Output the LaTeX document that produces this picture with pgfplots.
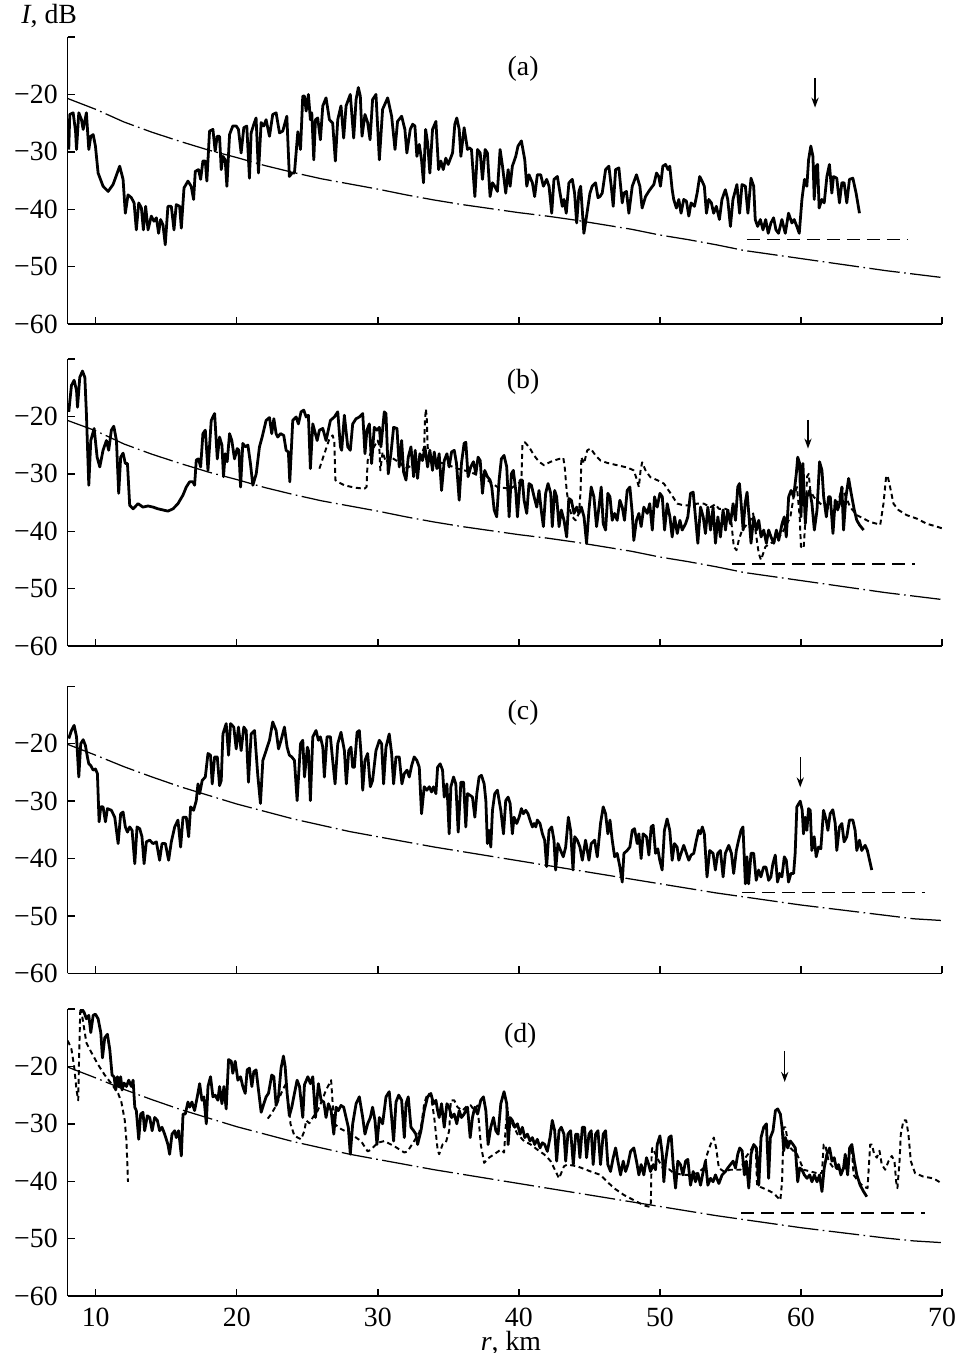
\documentclass[border=0pt]{standalone}
\usepackage{fontspec}
\setmainfont{Liberation Serif}
\usepackage{pgfplots}
\pgfplotsset{compat=1.18}
\usetikzlibrary{arrows.meta}
\pgfplotsset{
 panel/.style={
  scale only axis, width=314.82pt, height=103.32pt,
  xmin=8, xmax=70, ymin=-60, ymax=-10,
  axis lines=left, axis line style={-, line width=0.5pt},
  xtick={10,20,30,40,50,60,70}, ytick={-60,-50,-40,-30,-20,-10},
  yticklabels={−60,−50,−40,−30,−20,{}},
  xticklabels={},
  tick align=inside, major tick length=2.6pt,
  tick style={line width=0.5pt, black},
  anchor=south west, clip=true,
  ticklabel style={font=\fontsize{10}{12}\selectfont},
 },
 solidc/.style={black, line width=1.0pt, line join=round, mark=none},
 dotc/.style={black, line width=0.7pt, dash pattern=on 1.8pt off 1.3pt, line join=round, mark=none},
 refc/.style={black, line width=0.45pt, dash pattern=on 11pt off 1.6pt on 0.6pt off 1.6pt, mark=none},
 noisec/.style={black, line width=0.5pt, dash pattern=on 4.6pt off 2.6pt, mark=none},
 arrowc/.style={black, line width=0.5pt, -{Stealth[length=3.6pt,width=2.6pt]}, mark=none},
}
\begin{document}
\begin{tikzpicture}
\path[use as bounding box] (0,0) rectangle (346.32pt,-487.08pt);
\node[anchor=west, font=\fontsize{10}{12}\selectfont] at (4.2pt,-5.6pt) {\textit{I}, dB};
\node[font=\fontsize{10}{12}\selectfont, inner sep=0pt, anchor=base] at (183.96pt,-486.0pt) {\textit{r}, km};

% ---------------- (a)
\begin{axis}[panel, at={(24.3pt,-116.64pt)}]
\addplot[refc] coordinates {(8,-20.7)(10,-22.6)(12,-24.8)(14,-26.6)(16,-28.2)(18,-29.7)(20,-31.0)(22,-32.4)(24,-33.6)(26,-34.7)(28,-35.6)(30,-36.5)(32,-37.5)(34,-38.4)(36,-39.2)(38,-39.9)(40,-40.6)(42,-41.2)(44,-41.9)(46,-42.7)(48,-43.5)(50,-44.5)(52,-45.3)(54,-46.2)(56,-47.2)(58,-47.9)(60,-48.6)(62,-49.3)(64,-50.0)(66,-50.7)(68,-51.3)(70,-51.9)};
\addplot[noisec] coordinates {(56.17,-45.3)(67.6,-45.3)};
\addplot[arrowc] coordinates {(61.0,-17.1)(61.0,-22.3)};
\addplot[solidc] coordinates {(8.09,-29.6)(8.16,-23.5)(8.40,-23.2)(8.57,-26.4)(8.64,-29.6)(8.80,-23.2)(8.99,-24.4)(9.11,-26.1)(9.34,-23.2)(9.51,-29.6)(9.65,-27.3)(9.82,-27.0)(9.98,-29.0)(10.17,-33.7)(10.52,-36.0)(10.88,-36.9)(11.23,-35.7)(11.70,-32.5)(11.94,-34.8)(12.10,-40.7)(12.29,-37.5)(12.53,-38.0)(12.72,-38.9)(12.88,-43.6)(13.05,-38.9)(13.24,-39.8)(13.38,-43.6)(13.54,-39.5)(13.71,-43.6)(13.94,-41.2)(14.13,-42.1)(14.30,-41.5)(14.46,-44.2)(14.60,-41.8)(14.77,-42.7)(14.93,-46.2)(15.12,-39.5)(15.36,-39.5)(15.55,-43.6)(15.71,-39.2)(15.95,-39.5)(16.07,-43.3)(16.26,-36.3)(16.54,-35.1)(16.77,-36.0)(16.94,-38.3)(17.06,-33.4)(17.29,-33.1)(17.44,-34.8)(17.60,-31.6)(17.77,-31.6)(17.88,-35.1)(18.07,-26.4)(18.31,-26.1)(18.47,-29.9)(18.61,-27.3)(18.78,-27.3)(18.90,-33.1)(19.02,-30.8)(19.18,-31.4)(19.30,-36.0)(19.49,-27.0)(19.72,-25.5)(19.96,-25.5)(20.12,-26.1)(20.31,-30.2)(20.50,-25.8)(20.71,-25.5)(20.90,-34.6)(21.02,-26.7)(21.21,-25.2)(21.37,-24.1)(21.54,-33.7)(21.73,-24.9)(21.92,-25.5)(22.08,-24.4)(22.32,-27.3)(22.55,-23.5)(22.79,-23.2)(23.03,-26.7)(23.26,-26.4)(23.55,-23.8)(23.73,-34.3)(23.92,-33.7)(24.09,-33.7)(24.33,-26.5)(24.52,-29.6)(24.68,-20.3)(24.80,-20.3)(24.92,-22.9)(25.08,-20.0)(25.22,-24.4)(25.32,-23.2)(25.46,-31.4)(25.58,-24.4)(25.74,-24.1)(25.93,-27.9)(26.10,-22.0)(26.33,-20.6)(26.57,-24.4)(26.80,-25.0)(26.99,-31.6)(27.16,-24.4)(27.39,-22.0)(27.58,-27.6)(27.75,-22.0)(28.05,-20.0)(28.29,-27.6)(28.46,-20.9)(28.62,-18.8)(28.76,-20.3)(28.88,-27.3)(29.09,-23.5)(29.28,-24.9)(29.45,-27.9)(29.63,-20.9)(29.87,-20.0)(30.11,-31.4)(30.34,-22.6)(30.70,-20.6)(30.98,-23.8)(31.22,-29.6)(31.40,-24.7)(31.69,-23.8)(31.92,-26.1)(32.06,-30.2)(32.30,-26.1)(32.47,-25.2)(32.63,-25.5)(32.77,-30.8)(32.94,-28.7)(33.10,-31.4)(33.24,-35.4)(33.39,-26.1)(33.53,-28.4)(33.69,-33.7)(33.88,-26.1)(34.12,-24.7)(34.31,-33.1)(34.47,-31.6)(34.64,-33.1)(34.82,-31.1)(34.99,-32.2)(35.30,-30.2)(35.46,-25.2)(35.60,-24.1)(35.77,-26.1)(35.89,-30.8)(36.12,-25.8)(36.36,-29.6)(36.48,-29.3)(36.64,-29.6)(36.88,-37.8)(37.07,-29.6)(37.26,-30.2)(37.42,-34.8)(37.61,-29.6)(37.77,-30.2)(37.96,-37.8)(38.13,-35.4)(38.29,-36.0)(38.48,-36.9)(38.67,-29.6)(38.84,-32.5)(39.07,-37.2)(39.24,-33.1)(39.38,-36.0)(39.54,-32.5)(39.78,-30.8)(39.94,-29.0)(40.18,-28.1)(40.42,-31.4)(40.56,-36.0)(40.72,-34.0)(40.96,-35.4)(41.12,-37.8)(41.31,-34.0)(41.55,-34.0)(41.74,-36.0)(41.97,-34.8)(42.14,-36.0)(42.33,-40.7)(42.49,-34.8)(42.73,-34.3)(42.92,-37.2)(43.08,-39.5)(43.20,-38.3)(43.36,-40.7)(43.55,-35.4)(43.79,-34.8)(43.95,-37.2)(44.10,-42.4)(44.26,-36.9)(44.38,-36.0)(44.61,-44.2)(44.80,-41.2)(45.04,-37.2)(45.20,-36.0)(45.44,-35.4)(45.61,-38.0)(45.75,-37.8)(45.91,-37.2)(46.15,-33.1)(46.38,-32.5)(46.55,-36.0)(46.69,-39.5)(46.86,-33.1)(47.09,-32.8)(47.33,-38.9)(47.45,-37.2)(47.63,-36.9)(47.80,-40.7)(48.04,-36.0)(48.34,-34.0)(48.58,-36.0)(48.74,-39.8)(48.98,-37.8)(49.21,-36.9)(49.38,-36.3)(49.57,-35.7)(49.76,-33.7)(49.92,-34.3)(50.04,-36.0)(50.21,-32.5)(50.40,-32.2)(50.58,-33.1)(50.70,-32.5)(50.87,-36.6)(50.98,-38.3)(51.17,-39.8)(51.34,-38.3)(51.50,-40.7)(51.69,-38.3)(51.88,-38.6)(52.05,-41.2)(52.21,-38.9)(52.45,-39.5)(52.64,-37.2)(52.82,-34.3)(52.99,-35.1)(53.15,-36.0)(53.30,-40.7)(53.46,-38.3)(53.65,-38.9)(53.81,-40.7)(54.00,-39.5)(54.22,-41.8)(54.40,-38.3)(54.64,-36.6)(54.81,-38.3)(55.00,-43.0)(55.18,-38.3)(55.46,-35.7)(55.65,-40.7)(55.82,-35.7)(56.06,-36.0)(56.24,-40.7)(56.46,-34.6)(56.65,-36.0)(56.76,-41.8)(56.93,-43.0)(57.12,-41.8)(57.31,-43.6)(57.50,-41.8)(57.68,-44.2)(57.87,-42.4)(58.06,-41.5)(58.23,-43.6)(58.41,-44.2)(58.65,-41.8)(58.89,-44.2)(59.12,-40.7)(59.36,-42.4)(59.52,-41.8)(59.71,-43.0)(59.88,-44.2)(60.07,-38.3)(60.25,-34.8)(60.42,-36.0)(60.54,-31.4)(60.70,-29.0)(60.85,-30.8)(60.94,-38.3)(61.08,-32.5)(61.18,-32.2)(61.29,-39.8)(61.48,-38.3)(61.65,-38.9)(61.84,-34.3)(62.02,-32.2)(62.19,-37.2)(62.31,-34.3)(62.54,-34.6)(62.73,-38.9)(62.90,-35.4)(63.06,-35.4)(63.25,-38.9)(63.44,-34.8)(63.68,-34.6)(63.91,-37.2)(64.15,-40.7)};
\node[font=\fontsize{10}{12}\selectfont] at (axis cs:40.3,-15.6) {(a)};
\end{axis}

% ---------------- (b)
\begin{axis}[panel, at={(24.3pt,-232.56pt)}]
\addplot[refc] coordinates {(8,-20.7)(10,-22.5)(12,-24.8)(14,-26.6)(16,-28.2)(18,-29.7)(20,-31.0)(22,-32.4)(24,-33.6)(26,-34.7)(28,-35.6)(30,-36.5)(32,-37.5)(34,-38.4)(36,-39.2)(38,-39.9)(40,-40.6)(42,-41.2)(44,-41.9)(46,-42.7)(48,-43.5)(50,-44.5)(52,-45.3)(54,-46.2)(56,-47.2)(58,-47.9)(60,-48.6)(62,-49.3)(64,-50.0)(66,-50.7)(68,-51.3)(70,-51.9)};
\addplot[noisec] coordinates {(55.12,-45.7)(68.1,-45.7)};
\addplot[arrowc] coordinates {(60.5,-20.6)(60.5,-25.6)};
\addplot[dotc] coordinates {(25.86,-29.1)(26.21,-26.5)(26.57,-23.9)(26.80,-23.3)(26.92,-24.5)(26.99,-31.1)(27.16,-31.4)(27.63,-32.0)(28.34,-32.4)(29.05,-32.6)(29.20,-32.3)(29.28,-27.7)(29.52,-26.2)(29.99,-24.2)(30.10,-25.0)(30.18,-29.4)(30.34,-26.2)(30.58,-28.0)(30.93,-27.1)(31.64,-28.2)(31.88,-29.1)(32.40,-28.6)(32.90,-27.8)(33.17,-26.2)(33.29,-25.3)(33.34,-20.7)(33.41,-18.7)(33.48,-20.7)(33.53,-25.3)(33.76,-27.7)(34.71,-28.2)(35.65,-29.1)(36.59,-29.7)(37.77,-31.1)(38.48,-32.3)(39.42,-32.6)(40.05,-31.5)(40.18,-31.1)(40.25,-25.0)(40.42,-24.5)(40.72,-25.3)(41.08,-26.8)(41.43,-27.9)(41.78,-28.5)(42.26,-27.9)(42.73,-27.5)(43.15,-27.2)(43.25,-28.8)(43.39,-32.9)(43.55,-35.8)(43.79,-37.5)(44.02,-38.1)(44.26,-36.9)(44.38,-32.9)(44.43,-27.1)(44.62,-28.2)(44.85,-25.9)(45.09,-25.6)(45.44,-26.8)(45.79,-27.7)(46.27,-28.1)(46.97,-28.5)(47.68,-28.9)(48.15,-29.4)(48.34,-30.8)(48.51,-32.3)(48.63,-29.4)(48.74,-28.0)(48.98,-29.4)(49.33,-30.6)(49.81,-31.1)(50.28,-31.7)(50.76,-33.4)(51.23,-35.2)(51.70,-35.5)(52.17,-35.5)(52.64,-35.2)(53.11,-35.2)(53.59,-35.8)(53.94,-35.3)(54.18,-36.1)(54.65,-36.1)(55.00,-36.6)(55.12,-39.8)(55.24,-42.7)(55.43,-43.3)(55.59,-41.6)(55.83,-39.8)(56.42,-38.1)(56.61,-36.9)(56.84,-41.0)(57.01,-43.9)(57.17,-45.0)(57.48,-42.7)(57.83,-42.1)(58.30,-41.6)(58.78,-39.8)(59.25,-37.5)(59.48,-34.0)(59.72,-32.3)(59.91,-37.5)(60.00,-42.7)(60.19,-43.0)(60.33,-37.5)(60.43,-30.5)(60.55,-30.0)(60.66,-32.9)(60.90,-34.0)(61.37,-35.2)(62.31,-36.6)(62.74,-34.0)(62.90,-32.3)(63.49,-35.8)(63.96,-37.2)(64.44,-37.8)(64.91,-38.4)(65.38,-38.7)(65.62,-38.9)(65.85,-35.2)(66.04,-30.5)(66.14,-30.3)(66.32,-32.3)(66.56,-35.2)(66.91,-36.3)(67.50,-37.2)(68.21,-37.8)(68.92,-38.7)(69.63,-39.2)(70.0,-39.5)};
\addplot[solidc] coordinates {(8.09,-19.2)(8.28,-14.6)(8.47,-13.7)(8.64,-15.5)(8.71,-18.4)(8.87,-13.2)(9.06,-12.1)(9.23,-13.2)(9.34,-19.5)(9.51,-32.0)(9.65,-24.2)(9.89,-22.1)(10.10,-27.1)(10.29,-28.8)(10.52,-25.9)(10.76,-24.2)(10.92,-25.9)(11.11,-22.4)(11.28,-21.7)(11.47,-24.2)(11.63,-33.4)(11.77,-27.1)(11.94,-26.4)(12.10,-28.2)(12.25,-28.2)(12.41,-35.5)(12.65,-36.1)(13.00,-35.2)(13.35,-35.8)(13.71,-35.6)(14.06,-35.8)(14.42,-36.1)(14.77,-36.3)(15.12,-36.5)(15.48,-36.1)(15.83,-35.2)(16.19,-33.7)(16.42,-32.3)(16.66,-31.4)(16.89,-31.4)(17.01,-32.0)(17.13,-27.6)(17.29,-27.4)(17.44,-28.8)(17.60,-23.0)(17.77,-22.4)(17.96,-29.4)(18.19,-20.7)(18.43,-19.5)(18.62,-27.4)(18.78,-23.6)(18.95,-25.0)(19.06,-30.5)(19.18,-26.5)(19.32,-27.9)(19.49,-23.0)(19.65,-24.2)(19.84,-27.4)(20.03,-25.6)(20.15,-25.9)(20.27,-32.3)(20.43,-24.7)(20.60,-25.3)(20.79,-25.0)(20.97,-28.2)(21.14,-32.0)(21.38,-30.0)(21.61,-25.3)(21.80,-23.6)(22.08,-20.7)(22.32,-20.2)(22.48,-23.0)(22.63,-20.4)(22.79,-23.0)(22.91,-23.6)(23.10,-23.0)(23.33,-23.3)(23.50,-25.9)(23.66,-26.2)(23.76,-31.4)(23.97,-20.7)(24.21,-20.1)(24.37,-21.3)(24.56,-19.2)(24.75,-18.9)(24.92,-20.1)(25.08,-19.8)(25.22,-29.1)(25.39,-21.3)(25.51,-22.4)(25.70,-24.2)(25.86,-22.4)(26.10,-22.1)(26.33,-24.2)(26.64,-20.7)(26.92,-20.1)(27.16,-19.2)(27.35,-25.3)(27.44,-25.9)(27.63,-19.8)(27.87,-25.3)(28.05,-25.9)(28.22,-21.3)(28.46,-20.4)(28.69,-20.1)(28.93,-19.5)(29.09,-26.5)(29.23,-22.4)(29.40,-21.3)(29.56,-28.2)(29.75,-21.9)(29.94,-22.4)(30.11,-21.9)(30.22,-25.3)(30.46,-19.2)(30.58,-19.5)(30.74,-30.0)(30.93,-26.5)(31.12,-21.9)(31.36,-22.1)(31.52,-28.8)(31.69,-24.2)(31.83,-29.7)(32.00,-31.1)(32.16,-27.1)(32.35,-25.3)(32.54,-30.5)(32.65,-25.9)(32.82,-30.8)(32.98,-26.5)(33.17,-27.7)(33.34,-25.3)(33.53,-28.8)(33.69,-25.9)(33.88,-29.4)(34.00,-26.2)(34.19,-29.1)(34.35,-26.5)(34.52,-32.9)(34.71,-27.7)(34.90,-26.5)(35.06,-28.8)(35.23,-26.2)(35.42,-25.9)(35.58,-28.2)(35.77,-34.6)(35.93,-28.2)(36.12,-24.7)(36.24,-24.5)(36.40,-30.5)(36.59,-28.8)(36.78,-27.9)(36.95,-30.0)(37.11,-27.1)(37.26,-27.7)(37.42,-33.4)(37.58,-29.4)(37.77,-30.5)(37.96,-31.1)(38.08,-32.3)(38.25,-36.3)(38.43,-37.5)(38.60,-31.1)(38.76,-27.4)(38.95,-26.8)(39.14,-28.8)(39.31,-37.5)(39.47,-30.0)(39.61,-29.4)(39.78,-32.9)(39.90,-37.5)(40.09,-31.1)(40.25,-31.1)(40.37,-34.6)(40.56,-36.9)(40.72,-31.7)(40.89,-32.0)(41.08,-34.0)(41.27,-35.8)(41.43,-32.9)(41.60,-36.6)(41.74,-39.2)(41.90,-33.4)(42.07,-31.7)(42.26,-33.4)(42.37,-39.2)(42.54,-32.9)(42.68,-34.0)(42.85,-39.2)(43.01,-36.3)(43.20,-38.1)(43.39,-41.0)(43.55,-34.3)(43.72,-34.6)(43.91,-36.9)(44.10,-35.8)(44.26,-36.9)(44.43,-35.8)(44.62,-37.5)(44.80,-42.1)(44.97,-36.3)(45.13,-32.3)(45.32,-34.0)(45.51,-39.2)(45.68,-35.8)(45.84,-32.3)(45.98,-38.7)(46.15,-39.8)(46.31,-33.4)(46.46,-34.0)(46.62,-38.1)(46.79,-36.9)(46.97,-38.1)(47.16,-34.6)(47.33,-35.8)(47.49,-38.1)(47.68,-32.9)(47.87,-32.3)(48.04,-36.9)(48.15,-41.6)(48.34,-38.1)(48.51,-36.9)(48.67,-39.2)(48.86,-35.8)(49.10,-36.9)(49.28,-35.2)(49.46,-39.8)(49.62,-34.0)(49.81,-35.8)(50.00,-33.4)(50.17,-34.0)(50.33,-39.8)(50.52,-35.2)(50.71,-37.5)(50.87,-41.0)(51.04,-37.5)(51.23,-40.4)(51.42,-38.1)(51.58,-39.8)(51.82,-38.7)(51.98,-37.5)(52.17,-33.4)(52.36,-33.2)(52.52,-37.5)(52.69,-42.1)(52.88,-35.8)(53.07,-37.5)(53.23,-40.4)(53.40,-35.8)(53.59,-39.8)(53.77,-35.8)(53.94,-42.1)(54.11,-37.5)(54.29,-41.0)(54.48,-36.3)(54.65,-39.8)(54.81,-36.3)(55.00,-38.7)(55.19,-35.2)(55.36,-38.1)(55.52,-32.3)(55.64,-31.7)(55.76,-35.2)(55.90,-39.8)(56.04,-35.2)(56.18,-33.2)(56.32,-37.5)(56.46,-42.1)(56.65,-37.5)(56.84,-39.8)(57.01,-38.1)(57.17,-41.0)(57.36,-39.8)(57.55,-42.1)(57.71,-39.8)(57.88,-41.0)(58.07,-42.1)(58.26,-39.8)(58.42,-41.6)(58.66,-38.7)(58.82,-37.5)(58.96,-41.0)(59.13,-34.0)(59.30,-32.9)(59.48,-34.0)(59.67,-30.0)(59.77,-27.1)(59.91,-28.2)(60.00,-37.5)(60.14,-28.2)(60.31,-38.7)(60.43,-34.0)(60.62,-32.9)(60.78,-35.2)(60.95,-39.8)(61.14,-36.3)(61.32,-27.9)(61.49,-29.4)(61.61,-34.0)(61.80,-37.5)(61.96,-34.0)(62.08,-34.0)(62.27,-40.4)(62.43,-34.6)(62.60,-36.3)(62.74,-35.2)(62.90,-32.3)(63.02,-39.8)(63.19,-34.0)(63.38,-30.8)(63.56,-33.4)(63.78,-36.3)(63.96,-38.1)(64.15,-38.9)(64.44,-39.8)};
\node[font=\fontsize{10}{12}\selectfont] at (axis cs:40.3,-13.9) {(b)};
\end{axis}

% ---------------- (c)
\begin{axis}[panel, at={(24.3pt,-350.39pt)}]
\addplot[refc] coordinates {(8,-20.1)(10,-22.0)(12,-24.0)(14,-25.8)(16,-27.5)(18,-29.0)(20,-30.5)(22,-31.8)(24,-33.1)(26,-34.2)(28,-35.3)(30,-36.2)(32,-37.1)(34,-38.0)(36,-38.8)(38,-39.6)(40,-40.4)(42,-41.2)(44,-42.0)(46,-42.8)(48,-43.6)(50,-44.4)(52,-45.2)(54,-46.0)(56,-46.7)(58,-47.4)(60,-48.1)(62,-48.7)(64,-49.3)(66,-49.9)(68,-50.5)(70,-50.8)};
\addplot[noisec] coordinates {(55.82,-45.9)(68.8,-45.9)};
\addplot[arrowc] coordinates {(59.95,-22.4)(59.95,-27.6)};
\addplot[solidc] coordinates {(8.09,-19.1)(8.28,-17.7)(8.47,-16.8)(8.64,-18.8)(8.80,-25.8)(8.94,-20.0)(9.11,-19.3)(9.27,-20.3)(9.41,-22.3)(9.51,-23.5)(9.65,-23.8)(9.82,-24.6)(9.98,-24.4)(10.12,-25.2)(10.24,-33.6)(10.36,-31.0)(10.52,-31.0)(10.69,-33.6)(10.83,-31.3)(11.11,-31.6)(11.35,-32.8)(11.59,-37.4)(11.77,-32.2)(11.94,-31.9)(12.10,-34.5)(12.25,-35.4)(12.41,-34.5)(12.58,-35.1)(12.77,-40.9)(12.93,-34.5)(13.12,-34.8)(13.28,-36.2)(13.43,-40.9)(13.59,-37.1)(13.83,-36.8)(14.06,-37.4)(14.30,-37.1)(14.53,-40.3)(14.70,-37.4)(14.94,-37.4)(15.17,-40.3)(15.36,-37.1)(15.60,-34.5)(15.83,-33.3)(16.02,-38.0)(16.19,-32.8)(16.42,-32.8)(16.59,-36.2)(16.73,-31.0)(16.94,-31.6)(17.13,-29.9)(17.25,-27.0)(17.37,-28.7)(17.55,-26.4)(17.77,-25.8)(17.96,-21.7)(18.14,-22.0)(18.26,-27.0)(18.43,-22.3)(18.62,-22.3)(18.78,-27.3)(18.90,-26.4)(19.02,-18.3)(19.25,-16.5)(19.42,-22.0)(19.56,-16.5)(19.79,-17.1)(19.96,-20.9)(20.12,-17.1)(20.31,-21.2)(20.50,-17.1)(20.67,-17.7)(20.83,-26.7)(21.02,-18.3)(21.26,-17.7)(21.49,-25.5)(21.68,-30.4)(21.85,-22.9)(22.08,-21.2)(22.32,-19.4)(22.55,-16.2)(22.79,-17.7)(22.96,-20.9)(23.14,-19.4)(23.38,-17.1)(23.57,-20.6)(23.73,-22.0)(23.90,-22.3)(24.09,-22.9)(24.28,-29.9)(24.52,-20.0)(24.68,-19.4)(24.80,-25.8)(25.01,-20.6)(25.08,-21.2)(25.22,-29.9)(25.39,-18.8)(25.62,-17.7)(25.79,-19.4)(25.93,-18.8)(26.10,-20.6)(26.21,-25.8)(26.40,-18.8)(26.64,-18.8)(26.80,-22.9)(26.97,-27.0)(27.16,-20.0)(27.39,-18.0)(27.63,-21.2)(27.77,-27.0)(27.94,-21.2)(28.10,-20.6)(28.22,-24.1)(28.34,-24.1)(28.53,-18.0)(28.69,-17.7)(28.81,-21.7)(28.93,-28.1)(29.09,-22.9)(29.28,-21.7)(29.47,-27.5)(29.63,-26.4)(29.87,-21.2)(30.11,-19.4)(30.27,-20.0)(30.41,-27.0)(30.58,-20.6)(30.81,-18.3)(30.98,-21.7)(31.12,-27.0)(31.29,-22.3)(31.52,-22.3)(31.71,-27.0)(31.88,-25.2)(32.07,-24.6)(32.23,-25.8)(32.40,-23.8)(32.58,-22.3)(32.77,-22.9)(32.94,-24.1)(33.10,-32.2)(33.29,-27.5)(33.48,-28.1)(33.65,-27.5)(33.81,-28.4)(33.95,-27.5)(34.12,-28.7)(34.24,-24.1)(34.42,-23.5)(34.59,-24.6)(34.71,-29.3)(34.90,-27.0)(35.06,-35.7)(35.18,-27.5)(35.37,-25.8)(35.53,-27.0)(35.70,-35.4)(35.89,-26.7)(36.08,-26.7)(36.24,-34.5)(36.36,-28.7)(36.55,-29.0)(36.71,-29.3)(36.88,-32.8)(37.02,-28.7)(37.18,-25.8)(37.35,-25.5)(37.54,-27.0)(37.66,-29.9)(37.77,-37.4)(37.89,-35.1)(38.01,-38.0)(38.13,-31.6)(38.29,-28.7)(38.48,-28.1)(38.72,-31.6)(38.91,-35.7)(39.07,-29.9)(39.24,-29.3)(39.38,-30.4)(39.54,-35.7)(39.66,-32.8)(39.85,-33.9)(40.02,-32.8)(40.18,-31.3)(40.32,-32.2)(40.49,-31.6)(40.65,-32.2)(40.79,-33.3)(40.96,-34.5)(41.08,-33.9)(41.20,-34.5)(41.31,-33.3)(41.50,-33.9)(41.67,-35.7)(41.83,-36.8)(41.97,-41.4)(42.14,-35.1)(42.33,-34.5)(42.49,-36.8)(42.61,-42.0)(42.77,-37.4)(42.96,-38.6)(43.15,-39.7)(43.32,-38.0)(43.51,-32.8)(43.67,-35.1)(43.84,-42.0)(43.96,-36.2)(44.14,-36.8)(44.33,-38.0)(44.50,-40.3)(44.73,-36.8)(44.97,-40.3)(45.13,-37.4)(45.37,-36.8)(45.56,-39.7)(45.79,-33.9)(45.98,-31.0)(46.15,-32.2)(46.31,-35.7)(46.46,-33.3)(46.62,-36.8)(46.79,-39.7)(46.97,-39.1)(47.16,-41.4)(47.33,-44.1)(47.45,-39.1)(47.68,-38.6)(47.87,-38.0)(48.04,-35.1)(48.20,-34.8)(48.39,-37.4)(48.51,-35.7)(48.67,-40.0)(48.81,-35.7)(49.05,-36.2)(49.22,-39.4)(49.38,-34.5)(49.52,-34.2)(49.69,-39.1)(49.85,-38.3)(49.99,-40.3)(50.16,-42.0)(50.32,-35.1)(50.51,-33.1)(50.70,-35.1)(50.87,-40.3)(51.03,-37.4)(51.22,-38.0)(51.34,-40.3)(51.50,-39.1)(51.69,-37.7)(51.88,-39.1)(52.05,-40.3)(52.21,-39.4)(52.40,-39.1)(52.59,-36.8)(52.75,-35.1)(52.87,-35.7)(53.01,-34.5)(53.15,-35.7)(53.34,-43.2)(53.53,-38.6)(53.77,-39.1)(53.93,-42.0)(54.10,-39.1)(54.29,-38.6)(54.48,-43.2)(54.64,-39.1)(54.88,-37.7)(55.07,-39.1)(55.23,-42.6)(55.42,-38.6)(55.58,-36.8)(55.75,-35.1)(55.89,-34.5)(56.06,-44.4)(56.17,-39.7)(56.29,-44.4)(56.46,-39.1)(56.65,-39.1)(56.83,-43.8)(57.00,-42.0)(57.16,-43.2)(57.35,-41.5)(57.52,-41.5)(57.71,-43.8)(57.87,-43.2)(58.01,-40.9)(58.18,-39.4)(58.34,-44.1)(58.49,-42.6)(58.65,-43.2)(58.82,-39.7)(58.96,-40.3)(59.12,-44.1)(59.29,-42.6)(59.48,-42.6)(59.59,-39.1)(59.71,-31.0)(59.95,-30.0)(60.09,-31.6)(60.18,-35.7)(60.30,-32.8)(60.42,-35.1)(60.54,-31.3)(60.66,-31.6)(60.77,-38.6)(60.94,-36.2)(61.08,-39.7)(61.25,-38.0)(61.41,-38.3)(61.60,-31.6)(61.79,-33.3)(61.91,-35.1)(62.07,-32.2)(62.26,-31.5)(62.43,-33.9)(62.54,-38.6)(62.73,-34.5)(62.90,-33.9)(63.06,-37.1)(63.25,-36.2)(63.44,-33.3)(63.68,-33.3)(63.84,-35.1)(63.96,-38.6)(64.15,-36.8)(64.31,-38.6)(64.55,-37.7)(64.71,-38.6)(65.02,-42.0)};
\node[font=\fontsize{10}{12}\selectfont] at (axis cs:40.3,-14.7) {(c)};
\end{axis}

% ---------------- (d)
\begin{axis}[panel, at={(24.3pt,-466.56pt)}, xticklabels={10,20,30,40,50,60,70}, xticklabel style={inner sep=0pt, yshift=-4.0pt}]
\addplot[refc] coordinates {(8,-20.1)(10,-22.0)(12,-24.0)(14,-25.8)(16,-27.5)(18,-29.0)(20,-30.5)(22,-31.8)(24,-33.1)(26,-34.2)(28,-35.3)(30,-36.2)(32,-37.1)(34,-38.0)(36,-38.8)(38,-39.6)(40,-40.4)(42,-41.2)(44,-42.0)(46,-42.8)(48,-43.6)(50,-44.4)(52,-45.2)(54,-46.0)(56,-46.7)(58,-47.4)(60,-48.1)(62,-48.7)(64,-49.3)(66,-49.9)(68,-50.4)(70,-50.7)};
\addplot[noisec] coordinates {(55.76,-45.55)(68.8,-45.55)};
\addplot[arrowc] coordinates {(58.85,-17.3)(58.85,-22.7)};
\addplot[dotc] coordinates {(8.0,-15.5)(8.09,-15.9)(8.28,-17.0)(8.47,-20.0)(8.64,-24.1)(8.76,-25.9)(8.83,-17.6)(8.90,-10.6)(8.94,-9.7)(9.11,-12.3)(9.34,-15.9)(9.70,-17.6)(10.17,-19.7)(10.64,-21.5)(11.11,-23.0)(11.59,-24.7)(11.82,-26.2)(12.06,-29.4)(12.18,-33.0)(12.29,-40.1)};
\addplot[dotc] coordinates {(22.20,-29.1)(22.44,-28.3)(22.80,-26.8)(23.15,-24.7)(23.38,-23.5)(23.50,-23.0)(23.62,-25.3)(23.81,-30.0)(24.09,-32.1)(24.56,-32.7)(24.80,-31.2)(24.92,-29.4)(25.15,-29.9)(25.39,-28.9)(25.74,-27.7)(26.10,-25.6)(26.33,-24.1)(26.57,-23.0)(26.69,-22.4)(26.80,-26.5)(26.92,-30.0)(27.39,-30.9)(28.10,-31.8)(28.81,-33.0)(29.28,-34.8)(29.52,-34.5)(29.99,-33.3)(30.46,-33.0)(31.17,-33.9)(31.88,-35.0)(32.11,-34.8)(32.58,-33.0)(32.94,-31.5)(33.10,-30.0)(33.29,-26.5)(33.53,-24.7)(33.76,-25.0)(34.00,-28.9)(34.24,-34.5)(34.35,-35.3)(34.59,-33.6)(34.82,-33.3)(35.06,-31.2)(35.18,-25.9)(35.42,-25.9)(35.65,-27.1)(36.00,-27.7)(36.36,-26.8)(36.60,-26.8)(36.83,-27.7)(37.07,-26.8)(37.30,-33.6)(37.54,-36.8)(37.89,-35.9)(38.25,-35.3)(38.72,-34.5)(38.95,-35.0)(39.07,-30.6)(39.19,-27.1)(39.31,-30.6)(39.42,-29.4)(39.90,-31.8)(40.37,-33.0)(40.84,-33.6)(41.31,-34.5)(41.78,-35.3)(42.26,-36.5)(42.61,-38.3)(42.85,-39.5)(43.20,-37.4)(43.44,-37.1)(44.14,-37.4)(45.09,-38.3)(45.79,-38.9)(46.27,-40.1)(46.74,-41.2)(47.45,-42.4)(48.15,-43.3)(48.86,-44.2)(49.33,-44.5)(49.36,-43.6)(49.41,-35.3)(49.46,-34.2)(49.69,-35.3)(49.93,-36.5)(50.28,-38.0)(50.64,-37.9)(50.99,-38.6)(51.70,-38.9)(52.17,-38.9)(52.64,-38.6)(53.11,-37.7)(53.35,-35.3)(53.59,-33.6)(53.82,-32.4)(53.99,-34.2)(54.18,-37.7)(54.53,-38.3)(55.00,-38.0)(55.71,-38.0)(56.06,-35.9)(56.42,-34.7)(56.65,-33.6)(56.80,-34.2)(56.89,-40.7)(57.12,-41.0)(57.60,-41.5)(58.07,-42.1)(58.54,-43.3)(58.66,-40.1)(58.78,-30.6)(58.90,-30.6)(59.06,-33.0)(59.25,-34.2)(59.72,-35.3)(60.19,-38.0)(60.66,-38.3)(61.14,-38.6)(61.49,-38.6)(61.61,-33.6)(61.72,-33.6)(61.96,-36.5)(62.31,-37.7)(62.79,-38.0)(63.26,-37.7)(63.49,-34.2)(63.61,-34.2)(63.73,-38.9)(64.09,-40.1)(64.44,-41.0)(64.72,-41.2)(64.91,-33.6)(65.03,-33.6)(65.19,-35.3)(65.38,-35.9)(65.57,-34.7)(65.73,-37.1)(65.97,-38.0)(66.21,-36.5)(66.44,-35.6)(66.63,-36.5)(66.75,-40.1)(66.84,-41.2)(66.99,-36.5)(67.08,-31.8)(67.27,-29.4)(67.46,-29.4)(67.62,-31.8)(67.79,-36.5)(68.09,-38.6)(68.68,-39.2)(69.39,-39.5)(70.0,-40.4)};
\addplot[solidc] coordinates {(8.92,-9.6)(9.18,-10.6)(9.34,-11.7)(9.51,-11.1)(9.65,-14.1)(9.82,-11.1)(9.98,-10.9)(10.17,-11.7)(10.36,-14.1)(10.48,-18.5)(10.64,-15.0)(10.83,-14.4)(11.00,-17.1)(11.16,-21.5)(11.30,-21.8)(11.42,-24.1)(11.54,-21.8)(11.66,-23.5)(11.77,-21.8)(11.87,-24.1)(12.01,-22.9)(12.18,-23.5)(12.34,-22.4)(12.53,-23.5)(12.65,-22.4)(12.77,-27.1)(12.88,-27.7)(13.05,-32.7)(13.19,-28.3)(13.35,-28.0)(13.47,-31.2)(13.66,-28.6)(13.83,-28.9)(14.00,-31.2)(14.18,-28.9)(14.37,-29.4)(14.53,-31.2)(14.70,-30.6)(14.89,-31.8)(15.12,-33.6)(15.24,-35.3)(15.41,-31.8)(15.60,-31.2)(15.71,-32.4)(15.88,-31.2)(16.07,-35.6)(16.19,-28.3)(16.35,-28.3)(16.54,-26.2)(16.66,-27.1)(16.82,-26.2)(17.01,-27.7)(17.20,-25.3)(17.37,-23.0)(17.53,-25.9)(17.67,-25.3)(17.84,-30.0)(17.96,-23.5)(18.14,-21.8)(18.31,-25.3)(18.47,-25.0)(18.66,-25.9)(18.78,-23.5)(18.95,-26.5)(19.09,-23.5)(19.25,-27.4)(19.42,-18.8)(19.61,-19.1)(19.72,-21.2)(19.89,-19.1)(20.08,-22.4)(20.27,-21.8)(20.43,-23.5)(20.60,-24.7)(20.74,-20.6)(20.90,-20.3)(21.07,-23.5)(21.21,-20.9)(21.37,-20.6)(21.54,-24.1)(21.73,-28.0)(21.92,-26.5)(22.08,-25.3)(22.25,-24.7)(22.48,-21.5)(22.63,-21.8)(22.79,-26.8)(22.96,-25.3)(23.14,-20.3)(23.31,-18.2)(23.43,-20.0)(23.57,-24.7)(23.73,-28.6)(23.90,-27.1)(24.09,-24.7)(24.28,-22.4)(24.45,-23.5)(24.68,-28.9)(24.80,-23.2)(25.04,-21.8)(25.22,-23.0)(25.39,-21.8)(25.58,-28.9)(25.79,-23.0)(25.98,-25.9)(26.17,-26.2)(26.33,-28.9)(26.50,-26.5)(26.69,-27.7)(26.88,-31.8)(27.04,-27.1)(27.20,-27.7)(27.39,-26.8)(27.58,-27.1)(27.75,-28.9)(27.91,-30.6)(28.05,-35.3)(28.22,-30.0)(28.46,-26.5)(28.69,-25.3)(28.93,-28.9)(29.09,-31.8)(29.28,-30.0)(29.47,-28.9)(29.63,-27.1)(29.80,-29.4)(29.94,-33.6)(30.11,-28.9)(30.34,-30.0)(30.58,-25.3)(30.81,-24.4)(30.98,-28.9)(31.12,-33.0)(31.29,-26.2)(31.48,-25.0)(31.69,-25.9)(31.88,-32.4)(32.00,-26.5)(32.16,-25.3)(32.35,-30.6)(32.54,-31.2)(32.70,-31.8)(32.82,-33.6)(33.06,-31.2)(33.29,-27.7)(33.53,-25.3)(33.76,-24.7)(33.95,-26.5)(34.12,-25.9)(34.24,-27.7)(34.35,-28.9)(34.52,-26.5)(34.71,-30.6)(34.90,-26.5)(35.06,-27.1)(35.23,-28.9)(35.42,-28.3)(35.60,-30.0)(35.77,-27.7)(35.93,-28.9)(36.12,-28.3)(36.36,-27.1)(36.55,-32.4)(36.71,-28.9)(36.88,-27.1)(37.07,-28.3)(37.30,-25.9)(37.49,-25.3)(37.66,-27.7)(37.82,-33.6)(38.01,-30.6)(38.20,-28.9)(38.37,-31.2)(38.53,-31.8)(38.72,-26.5)(38.95,-24.4)(39.14,-26.5)(39.24,-33.6)(39.38,-28.9)(39.54,-29.4)(39.71,-30.6)(39.90,-30.0)(40.09,-31.8)(40.25,-30.6)(40.42,-32.4)(40.61,-31.8)(40.79,-33.0)(40.96,-32.4)(41.12,-33.6)(41.31,-32.7)(41.50,-34.2)(41.67,-33.3)(41.83,-33.6)(42.02,-34.8)(42.21,-32.4)(42.37,-29.4)(42.54,-31.2)(42.68,-36.5)(42.85,-31.2)(43.01,-30.6)(43.20,-31.8)(43.32,-36.5)(43.48,-31.8)(43.67,-31.2)(43.86,-37.1)(44.03,-31.8)(44.19,-31.8)(44.33,-35.9)(44.50,-30.6)(44.66,-30.6)(44.80,-35.9)(44.97,-31.8)(45.13,-31.2)(45.27,-37.1)(45.44,-31.8)(45.61,-31.2)(45.79,-37.1)(45.98,-31.8)(46.15,-31.2)(46.31,-37.1)(46.50,-38.3)(46.69,-35.9)(46.86,-34.2)(47.02,-36.5)(47.21,-38.9)(47.40,-36.5)(47.57,-38.3)(47.73,-37.1)(47.92,-34.8)(48.15,-34.2)(48.34,-36.5)(48.51,-38.9)(48.67,-37.1)(48.86,-38.9)(49.05,-35.9)(49.21,-37.1)(49.33,-38.3)(49.53,-37.1)(49.69,-38.0)(49.81,-33.6)(50.00,-32.1)(50.17,-35.3)(50.28,-40.1)(50.40,-36.5)(50.64,-32.4)(50.80,-32.1)(50.94,-37.1)(51.11,-41.2)(51.27,-36.5)(51.46,-37.1)(51.63,-38.9)(51.82,-36.5)(51.98,-36.2)(52.17,-40.7)(52.36,-38.3)(52.52,-40.1)(52.69,-38.6)(52.88,-40.7)(53.07,-38.3)(53.23,-36.5)(53.40,-40.7)(53.59,-39.5)(53.77,-40.1)(53.94,-38.9)(54.18,-40.4)(54.41,-38.9)(54.65,-38.3)(54.81,-37.7)(55.00,-37.1)(55.19,-36.5)(55.36,-37.7)(55.52,-35.3)(55.66,-34.2)(55.83,-34.7)(55.99,-38.9)(56.13,-36.5)(56.30,-41.2)(56.46,-35.3)(56.65,-33.6)(56.84,-34.2)(57.01,-40.7)(57.17,-32.4)(57.36,-30.6)(57.55,-30.0)(57.71,-39.5)(57.83,-32.4)(58.02,-31.2)(58.19,-27.7)(58.35,-27.4)(58.54,-28.3)(58.66,-30.6)(58.78,-34.7)(58.90,-32.4)(59.06,-34.2)(59.25,-33.0)(59.44,-33.6)(59.60,-34.2)(59.77,-40.1)(59.91,-37.7)(60.07,-38.0)(60.24,-38.9)(60.43,-39.5)(60.62,-38.9)(60.78,-40.1)(60.95,-38.9)(61.14,-40.1)(61.32,-38.9)(61.49,-41.8)(61.65,-37.7)(61.84,-35.3)(62.03,-34.2)(62.20,-36.5)(62.36,-35.9)(62.50,-37.7)(62.67,-37.1)(62.83,-38.9)(63.02,-37.7)(63.14,-35.3)(63.31,-38.9)(63.45,-34.2)(63.61,-33.6)(63.78,-36.5)(63.96,-38.9)(64.20,-40.7)(64.44,-41.8)(64.67,-42.7)};
\node[font=\fontsize{10}{12}\selectfont] at (axis cs:40.1,-14.7) {(d)};
\end{axis}
\end{tikzpicture}
\end{document}
